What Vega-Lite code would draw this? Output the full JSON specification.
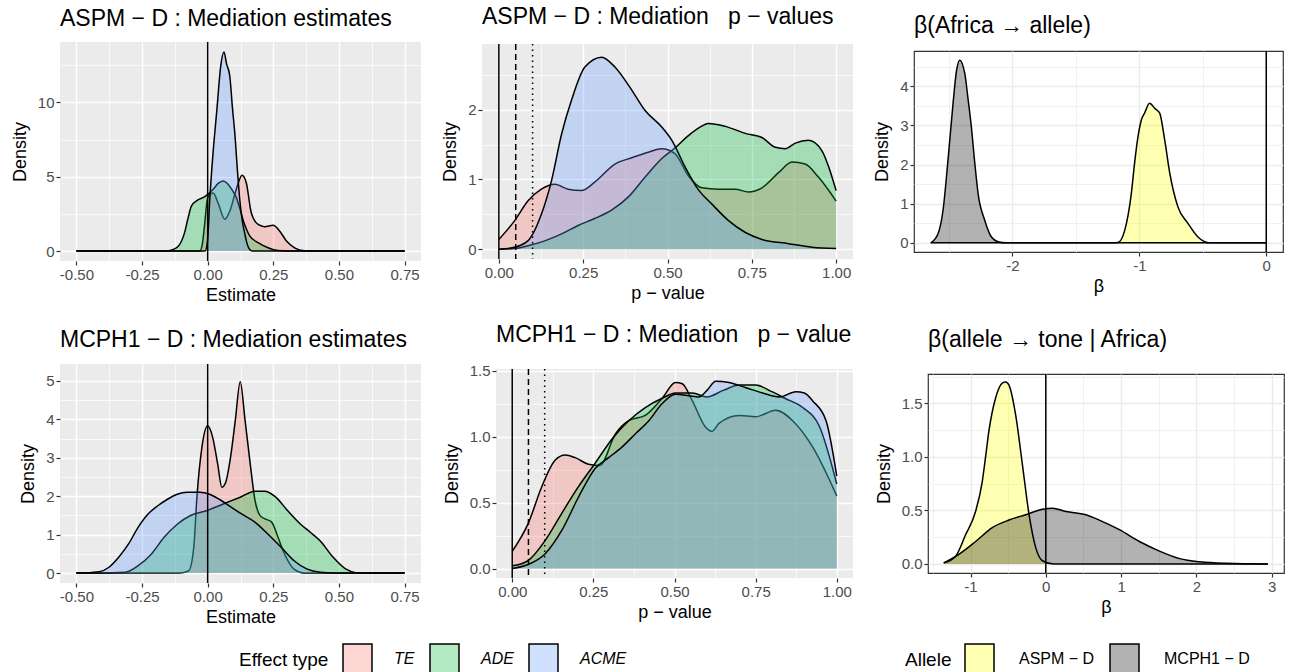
{
"$schema":"https://vega.github.io/schema/vega-lite/v6.json",
"background":"white",
"padding":{"left":11,"top":6,"right":5,"bottom":0},
"datasets":{
"p1":[
{"s":"TE","x":-0.5,"y":0},{"s":"TE","x":-0.03,"y":0},{"s":"TE","x":-0.02,"y":0.5},{"s":"TE","x":-0.011,"y":1.9},{"s":"TE","x":0,"y":3.6},{"s":"TE","x":0.021,"y":3.9},{"s":"TE","x":0.039,"y":3.26},{"s":"TE","x":0.065,"y":2.14},{"s":"TE","x":0.084,"y":2.67},{"s":"TE","x":0.109,"y":4.16},{"s":"TE","x":0.131,"y":5.1},{"s":"TE","x":0.147,"y":4.6},{"s":"TE","x":0.166,"y":2.58},{"s":"TE","x":0.192,"y":1.79},{"s":"TE","x":0.217,"y":1.64},{"s":"TE","x":0.249,"y":1.73},{"s":"TE","x":0.274,"y":1.35},{"s":"TE","x":0.3,"y":0.68},{"s":"TE","x":0.331,"y":0.22},{"s":"TE","x":0.369,"y":0.02},{"s":"TE","x":0.4,"y":0},{"s":"TE","x":0.75,"y":0},
{"s":"ADE","x":-0.5,"y":0},{"s":"ADE","x":-0.16,"y":0},{"s":"ADE","x":-0.139,"y":0.05},{"s":"ADE","x":-0.113,"y":0.3},{"s":"ADE","x":-0.088,"y":1.24},{"s":"ADE","x":-0.075,"y":2.2},{"s":"ADE","x":-0.062,"y":3.03},{"s":"ADE","x":-0.037,"y":3.44},{"s":"ADE","x":-0.011,"y":3.66},{"s":"ADE","x":0.021,"y":4.16},{"s":"ADE","x":0.04,"y":4.55},{"s":"ADE","x":0.058,"y":4.72},{"s":"ADE","x":0.075,"y":4.55},{"s":"ADE","x":0.09,"y":4.2},{"s":"ADE","x":0.109,"y":3.6},{"s":"ADE","x":0.122,"y":2.9},{"s":"ADE","x":0.134,"y":2.14},{"s":"ADE","x":0.147,"y":1.5},{"s":"ADE","x":0.16,"y":1.02},{"s":"ADE","x":0.192,"y":0.56},{"s":"ADE","x":0.23,"y":0.22},{"s":"ADE","x":0.268,"y":0.03},{"s":"ADE","x":0.3,"y":0},{"s":"ADE","x":0.75,"y":0},
{"s":"ACME","x":-0.5,"y":0},{"s":"ACME","x":-0.01,"y":0},{"s":"ACME","x":0,"y":0.8},{"s":"ACME","x":0.008,"y":3.5},{"s":"ACME","x":0.02,"y":6.5},{"s":"ACME","x":0.035,"y":9.5},{"s":"ACME","x":0.05,"y":12.5},{"s":"ACME","x":0.062,"y":13.4},{"s":"ACME","x":0.072,"y":12.6},{"s":"ACME","x":0.084,"y":11.8},{"s":"ACME","x":0.095,"y":9.5},{"s":"ACME","x":0.103,"y":8},{"s":"ACME","x":0.113,"y":5.5},{"s":"ACME","x":0.122,"y":3.5},{"s":"ACME","x":0.132,"y":2},{"s":"ACME","x":0.141,"y":1.2},{"s":"ACME","x":0.15,"y":0.5},{"s":"ACME","x":0.16,"y":0.1},{"s":"ACME","x":0.17,"y":0},{"s":"ACME","x":0.75,"y":0}
],
"p2":[
{"s":"TE","x":0,"y":0.14},{"s":"TE","x":0.047,"y":0.41},{"s":"TE","x":0.086,"y":0.69},{"s":"TE","x":0.126,"y":0.86},{"s":"TE","x":0.166,"y":0.93},{"s":"TE","x":0.205,"y":0.86},{"s":"TE","x":0.245,"y":0.84},{"s":"TE","x":0.284,"y":0.96},{"s":"TE","x":0.344,"y":1.22},{"s":"TE","x":0.394,"y":1.31},{"s":"TE","x":0.443,"y":1.39},{"s":"TE","x":0.483,"y":1.44},{"s":"TE","x":0.522,"y":1.37},{"s":"TE","x":0.562,"y":1.05},{"s":"TE","x":0.602,"y":0.88},{"s":"TE","x":0.651,"y":0.86},{"s":"TE","x":0.701,"y":0.86},{"s":"TE","x":0.74,"y":0.82},{"s":"TE","x":0.78,"y":0.88},{"s":"TE","x":0.83,"y":1.1},{"s":"TE","x":0.869,"y":1.25},{"s":"TE","x":0.908,"y":1.22},{"s":"TE","x":0.948,"y":1.03},{"s":"TE","x":1,"y":0.69},
{"s":"ADE","x":0,"y":0},{"s":"ADE","x":0.047,"y":0.01},{"s":"ADE","x":0.086,"y":0.05},{"s":"ADE","x":0.136,"y":0.12},{"s":"ADE","x":0.186,"y":0.22},{"s":"ADE","x":0.235,"y":0.34},{"s":"ADE","x":0.284,"y":0.44},{"s":"ADE","x":0.334,"y":0.56},{"s":"ADE","x":0.384,"y":0.75},{"s":"ADE","x":0.433,"y":1.03},{"s":"ADE","x":0.483,"y":1.3},{"s":"ADE","x":0.522,"y":1.45},{"s":"ADE","x":0.56,"y":1.62},{"s":"ADE","x":0.6,"y":1.76},{"s":"ADE","x":0.621,"y":1.8},{"s":"ADE","x":0.671,"y":1.76},{"s":"ADE","x":0.731,"y":1.66},{"s":"ADE","x":0.78,"y":1.6},{"s":"ADE","x":0.82,"y":1.46},{"s":"ADE","x":0.849,"y":1.44},{"s":"ADE","x":0.879,"y":1.52},{"s":"ADE","x":0.918,"y":1.56},{"s":"ADE","x":0.958,"y":1.41},{"s":"ADE","x":0.98,"y":1.15},{"s":"ADE","x":1,"y":0.84},
{"s":"ACME","x":0,"y":0},{"s":"ACME","x":0.04,"y":0.02},{"s":"ACME","x":0.086,"y":0.12},{"s":"ACME","x":0.126,"y":0.5},{"s":"ACME","x":0.156,"y":0.98},{"s":"ACME","x":0.186,"y":1.65},{"s":"ACME","x":0.215,"y":2.13},{"s":"ACME","x":0.255,"y":2.61},{"s":"ACME","x":0.305,"y":2.75},{"s":"ACME","x":0.344,"y":2.61},{"s":"ACME","x":0.394,"y":2.28},{"s":"ACME","x":0.433,"y":1.99},{"s":"ACME","x":0.483,"y":1.75},{"s":"ACME","x":0.513,"y":1.56},{"s":"ACME","x":0.552,"y":1.18},{"s":"ACME","x":0.592,"y":0.85},{"s":"ACME","x":0.631,"y":0.65},{"s":"ACME","x":0.681,"y":0.41},{"s":"ACME","x":0.731,"y":0.24},{"s":"ACME","x":0.78,"y":0.14},{"s":"ACME","x":0.859,"y":0.08},{"s":"ACME","x":0.928,"y":0.03},{"s":"ACME","x":1,"y":0.01}
],
"p3":[
{"s":"ASPM − D","x":-2.643,"y":0},{"s":"ASPM − D","x":-1.2,"y":0},{"s":"ASPM − D","x":-1.168,"y":0.01},{"s":"ASPM − D","x":-1.115,"y":0.32},{"s":"ASPM − D","x":-1.063,"y":1.26},{"s":"ASPM − D","x":-1.035,"y":2.1},{"s":"ASPM − D","x":-1.01,"y":2.72},{"s":"ASPM − D","x":-0.984,"y":3.14},{"s":"ASPM − D","x":-0.958,"y":3.32},{"s":"ASPM − D","x":-0.919,"y":3.57},{"s":"ASPM − D","x":-0.879,"y":3.44},{"s":"ASPM − D","x":-0.84,"y":3.32},{"s":"ASPM − D","x":-0.8,"y":2.63},{"s":"ASPM − D","x":-0.76,"y":1.78},{"s":"ASPM − D","x":-0.696,"y":0.92},{"s":"ASPM − D","x":-0.617,"y":0.5},{"s":"ASPM − D","x":-0.538,"y":0.15},{"s":"ASPM − D","x":-0.486,"y":0.03},{"s":"ASPM − D","x":-0.45,"y":0},{"s":"ASPM − D","x":0,"y":0},
{"s":"MCPH1 − D","x":-2.643,"y":0},{"s":"MCPH1 − D","x":-2.585,"y":0.24},{"s":"MCPH1 − D","x":-2.546,"y":0.84},{"s":"MCPH1 − D","x":-2.507,"y":2.12},{"s":"MCPH1 − D","x":-2.467,"y":3.58},{"s":"MCPH1 − D","x":-2.44,"y":4.4},{"s":"MCPH1 − D","x":-2.415,"y":4.67},{"s":"MCPH1 − D","x":-2.375,"y":4.33},{"s":"MCPH1 − D","x":-2.35,"y":3.7},{"s":"MCPH1 − D","x":-2.323,"y":2.96},{"s":"MCPH1 − D","x":-2.295,"y":2},{"s":"MCPH1 − D","x":-2.27,"y":1.26},{"s":"MCPH1 − D","x":-2.218,"y":0.58},{"s":"MCPH1 − D","x":-2.165,"y":0.15},{"s":"MCPH1 − D","x":-2.113,"y":0.03},{"s":"MCPH1 − D","x":-2.05,"y":0},{"s":"MCPH1 − D","x":0,"y":0}
],
"p4":[
{"s":"TE","x":-0.5,"y":0},{"s":"TE","x":-0.109,"y":0},{"s":"TE","x":-0.072,"y":0.06},{"s":"TE","x":-0.053,"y":0.67},{"s":"TE","x":-0.041,"y":1.97},{"s":"TE","x":-0.022,"y":3.27},{"s":"TE","x":0,"y":3.83},{"s":"TE","x":0.019,"y":3.53},{"s":"TE","x":0.038,"y":2.84},{"s":"TE","x":0.054,"y":2.23},{"s":"TE","x":0.068,"y":2.35},{"s":"TE","x":0.087,"y":3.01},{"s":"TE","x":0.105,"y":3.96},{"s":"TE","x":0.124,"y":4.98},{"s":"TE","x":0.142,"y":4},{"s":"TE","x":0.161,"y":2.9},{"s":"TE","x":0.18,"y":1.9},{"s":"TE","x":0.199,"y":1.5},{"s":"TE","x":0.218,"y":1.41},{"s":"TE","x":0.243,"y":1.33},{"s":"TE","x":0.268,"y":0.93},{"s":"TE","x":0.286,"y":0.6},{"s":"TE","x":0.305,"y":0.33},{"s":"TE","x":0.329,"y":0.1},{"s":"TE","x":0.366,"y":0},{"s":"TE","x":0.75,"y":0},
{"s":"ADE","x":-0.5,"y":0},{"s":"ADE","x":-0.413,"y":0},{"s":"ADE","x":-0.314,"y":0.02},{"s":"ADE","x":-0.265,"y":0.19},{"s":"ADE","x":-0.215,"y":0.49},{"s":"ADE","x":-0.166,"y":0.93},{"s":"ADE","x":-0.116,"y":1.27},{"s":"ADE","x":-0.067,"y":1.49},{"s":"ADE","x":-0.005,"y":1.62},{"s":"ADE","x":0.057,"y":1.79},{"s":"ADE","x":0.119,"y":1.96},{"s":"ADE","x":0.181,"y":2.13},{"s":"ADE","x":0.218,"y":2.13},{"s":"ADE","x":0.255,"y":2},{"s":"ADE","x":0.305,"y":1.62},{"s":"ADE","x":0.354,"y":1.27},{"s":"ADE","x":0.391,"y":1.06},{"s":"ADE","x":0.428,"y":0.84},{"s":"ADE","x":0.478,"y":0.41},{"s":"ADE","x":0.527,"y":0.1},{"s":"ADE","x":0.564,"y":0.01},{"s":"ADE","x":0.6,"y":0},{"s":"ADE","x":0.75,"y":0},
{"s":"ACME","x":-0.5,"y":0},{"s":"ACME","x":-0.45,"y":0.01},{"s":"ACME","x":-0.413,"y":0.03},{"s":"ACME","x":-0.376,"y":0.15},{"s":"ACME","x":-0.339,"y":0.41},{"s":"ACME","x":-0.302,"y":0.75},{"s":"ACME","x":-0.265,"y":1.19},{"s":"ACME","x":-0.228,"y":1.53},{"s":"ACME","x":-0.19,"y":1.75},{"s":"ACME","x":-0.153,"y":1.92},{"s":"ACME","x":-0.116,"y":2.05},{"s":"ACME","x":-0.079,"y":2.1},{"s":"ACME","x":-0.03,"y":2.1},{"s":"ACME","x":0.007,"y":2.05},{"s":"ACME","x":0.044,"y":1.92},{"s":"ACME","x":0.082,"y":1.75},{"s":"ACME","x":0.131,"y":1.53},{"s":"ACME","x":0.181,"y":1.32},{"s":"ACME","x":0.23,"y":1.01},{"s":"ACME","x":0.28,"y":0.67},{"s":"ACME","x":0.329,"y":0.32},{"s":"ACME","x":0.379,"y":0.1},{"s":"ACME","x":0.428,"y":0.02},{"s":"ACME","x":0.48,"y":0},{"s":"ACME","x":0.75,"y":0}
],
"p5":[
{"s":"TE","x":0,"y":0.13},{"s":"TE","x":0.049,"y":0.34},{"s":"TE","x":0.091,"y":0.62},{"s":"TE","x":0.132,"y":0.82},{"s":"TE","x":0.163,"y":0.86},{"s":"TE","x":0.194,"y":0.84},{"s":"TE","x":0.235,"y":0.79},{"s":"TE","x":0.27,"y":0.78},{"s":"TE","x":0.318,"y":1.02},{"s":"TE","x":0.359,"y":1.12},{"s":"TE","x":0.41,"y":1.16},{"s":"TE","x":0.462,"y":1.29},{"s":"TE","x":0.503,"y":1.41},{"s":"TE","x":0.524,"y":1.4},{"s":"TE","x":0.555,"y":1.27},{"s":"TE","x":0.596,"y":1.07},{"s":"TE","x":0.615,"y":1.04},{"s":"TE","x":0.637,"y":1.1},{"s":"TE","x":0.699,"y":1.16},{"s":"TE","x":0.75,"y":1.15},{"s":"TE","x":0.812,"y":1.2},{"s":"TE","x":0.864,"y":1.12},{"s":"TE","x":0.926,"y":0.92},{"s":"TE","x":1,"y":0.55},
{"s":"ADE","x":0,"y":0.02},{"s":"ADE","x":0.049,"y":0.06},{"s":"ADE","x":0.101,"y":0.21},{"s":"ADE","x":0.153,"y":0.42},{"s":"ADE","x":0.204,"y":0.62},{"s":"ADE","x":0.256,"y":0.8},{"s":"ADE","x":0.307,"y":0.98},{"s":"ADE","x":0.359,"y":1.12},{"s":"ADE","x":0.41,"y":1.22},{"s":"ADE","x":0.462,"y":1.29},{"s":"ADE","x":0.503,"y":1.33},{"s":"ADE","x":0.555,"y":1.33},{"s":"ADE","x":0.6,"y":1.3},{"s":"ADE","x":0.65,"y":1.35},{"s":"ADE","x":0.7,"y":1.39},{"s":"ADE","x":0.75,"y":1.39},{"s":"ADE","x":0.8,"y":1.34},{"s":"ADE","x":0.84,"y":1.29},{"s":"ADE","x":0.895,"y":1.22},{"s":"ADE","x":0.946,"y":1.08},{"s":"ADE","x":1,"y":0.64},
{"s":"ACME","x":0,"y":0},{"s":"ACME","x":0.049,"y":0.03},{"s":"ACME","x":0.101,"y":0.11},{"s":"ACME","x":0.153,"y":0.29},{"s":"ACME","x":0.204,"y":0.54},{"s":"ACME","x":0.256,"y":0.76},{"s":"ACME","x":0.297,"y":0.84},{"s":"ACME","x":0.338,"y":0.92},{"s":"ACME","x":0.379,"y":1.02},{"s":"ACME","x":0.421,"y":1.12},{"s":"ACME","x":0.462,"y":1.25},{"s":"ACME","x":0.503,"y":1.32},{"s":"ACME","x":0.544,"y":1.31},{"s":"ACME","x":0.575,"y":1.3},{"s":"ACME","x":0.6,"y":1.35},{"s":"ACME","x":0.627,"y":1.42},{"s":"ACME","x":0.668,"y":1.41},{"s":"ACME","x":0.72,"y":1.37},{"s":"ACME","x":0.771,"y":1.33},{"s":"ACME","x":0.823,"y":1.3},{"s":"ACME","x":0.874,"y":1.34},{"s":"ACME","x":0.9,"y":1.33},{"s":"ACME","x":0.926,"y":1.27},{"s":"ACME","x":0.967,"y":1.12},{"s":"ACME","x":1,"y":0.7}
],
"p6":[
{"s":"ASPM − D","x":-1.356,"y":0.01},{"s":"ASPM − D","x":-1.2,"y":0.07},{"s":"ASPM − D","x":-1.067,"y":0.27},{"s":"ASPM − D","x":-0.933,"y":0.49},{"s":"ASPM − D","x":-0.844,"y":0.77},{"s":"ASPM − D","x":-0.8,"y":1},{"s":"ASPM − D","x":-0.756,"y":1.24},{"s":"ASPM − D","x":-0.667,"y":1.55},{"s":"ASPM − D","x":-0.578,"y":1.69},{"s":"ASPM − D","x":-0.533,"y":1.7},{"s":"ASPM − D","x":-0.489,"y":1.67},{"s":"ASPM − D","x":-0.4,"y":1.39},{"s":"ASPM − D","x":-0.311,"y":0.93},{"s":"ASPM − D","x":-0.222,"y":0.46},{"s":"ASPM − D","x":-0.133,"y":0.15},{"s":"ASPM − D","x":-0.044,"y":0.03},{"s":"ASPM − D","x":0.1,"y":0},{"s":"ASPM − D","x":2.95,"y":0},
{"s":"MCPH1 − D","x":-1.356,"y":0.01},{"s":"MCPH1 − D","x":-1.156,"y":0.09},{"s":"MCPH1 − D","x":-0.933,"y":0.21},{"s":"MCPH1 − D","x":-0.711,"y":0.34},{"s":"MCPH1 − D","x":-0.489,"y":0.41},{"s":"MCPH1 − D","x":-0.267,"y":0.46},{"s":"MCPH1 − D","x":-0.044,"y":0.51},{"s":"MCPH1 − D","x":0.089,"y":0.52},{"s":"MCPH1 − D","x":0.267,"y":0.49},{"s":"MCPH1 − D","x":0.533,"y":0.46},{"s":"MCPH1 − D","x":0.711,"y":0.41},{"s":"MCPH1 − D","x":0.978,"y":0.32},{"s":"MCPH1 − D","x":1.244,"y":0.21},{"s":"MCPH1 − D","x":1.511,"y":0.12},{"s":"MCPH1 − D","x":1.778,"y":0.05},{"s":"MCPH1 − D","x":2.044,"y":0.02},{"s":"MCPH1 − D","x":2.4,"y":0.006},{"s":"MCPH1 − D","x":2.95,"y":0}
]
},
"vconcat":[
{"hconcat":[
{"width":361,"height":219,
 "title":{"text":"ASPM − D : Mediation estimates","offset":10},
 "data":{"name":"p1"},
 "encoding":{"x":{"field":"x","type":"quantitative","title":"Estimate","scale":{"domain":[-0.5625,0.8125],"nice":false,"zero":false},
   "axis":{"values":[-0.5,-0.375,-0.25,-0.125,0,0.125,0.25,0.375,0.5,0.625,0.75],
   "labelExpr":"indexof([-0.5,-0.25,0,0.25,0.5,0.75], datum.value) >= 0 ? replace(format(datum.value,'.2f'),'\u2212','-') : ''",
   "gridWidth":{"condition":{"test":"indexof([-0.5,-0.25,0,0.25,0.5,0.75], datum.value) >= 0","value":1.4},"value":0.7},
   "tickOpacity":{"condition":{"test":"indexof([-0.5,-0.25,0,0.25,0.5,0.75], datum.value) >= 0","value":1},"value":0}}}},
 "layer":[
  {"encoding":{
    "y":{"field":"y","type":"quantitative","stack":null,"title":"Density","scale":{"domain":[-0.67,14.07],"nice":false,"zero":false},
     "axis":{"values":[0,2.5,5,7.5,10,12.5],
     "labelExpr":"indexof([0,5,10], datum.value) >= 0 ? format(datum.value,'d') : ''",
     "gridWidth":{"condition":{"test":"indexof([0,5,10], datum.value) >= 0","value":1.4},"value":0.7},
     "tickOpacity":{"condition":{"test":"indexof([0,5,10], datum.value) >= 0","value":1},"value":0}}},
    "fill":{"field":"s","type":"nominal","scale":{"domain":["TE","ADE","ACME"],"range":["#F8766D","#00BA38","#619CFF"]},"legend":null}},
   "layer":[
    {"transform":[{"filter":"datum.s === 'TE'"}],"mark":{"type":"area","interpolate":"monotone","fillOpacity":0.3}},
    {"transform":[{"filter":"datum.s === 'TE'"}],"mark":{"type":"line","interpolate":"monotone","stroke":"black","strokeWidth":1.5},"encoding":{"fill":{"value":"transparent"}}},
    {"transform":[{"filter":"datum.s === 'ADE'"}],"mark":{"type":"area","interpolate":"monotone","fillOpacity":0.3}},
    {"transform":[{"filter":"datum.s === 'ADE'"}],"mark":{"type":"line","interpolate":"monotone","stroke":"black","strokeWidth":1.5},"encoding":{"fill":{"value":"transparent"}}},
    {"transform":[{"filter":"datum.s === 'ACME'"}],"mark":{"type":"area","interpolate":"monotone","fillOpacity":0.3}},
    {"transform":[{"filter":"datum.s === 'ACME'"}],"mark":{"type":"line","interpolate":"monotone","stroke":"black","strokeWidth":1.5},"encoding":{"fill":{"value":"transparent"}}}
   ]},
  {"data":{"values":[{"x":0}]},"mark":{"type":"rule","color":"black","strokeWidth":1.5},"encoding":{}}
 ]},
{"width":371,"height":215,
 "title":{"text":"ASPM − D : Mediation \u00a0\u00a0p − values","offset":14},
 "data":{"name":"p2"},
 "encoding":{"x":{"field":"x","type":"quantitative","title":"p − value","scale":{"domain":[-0.05,1.05],"nice":false,"zero":false},
   "axis":{"values":[0,0.125,0.25,0.375,0.5,0.625,0.75,0.875,1],
   "labelExpr":"indexof([0,0.25,0.5,0.75,1], datum.value) >= 0 ? format(datum.value,'.2f') : ''",
   "gridWidth":{"condition":{"test":"indexof([0,0.25,0.5,0.75,1], datum.value) >= 0","value":1.4},"value":0.7},
   "tickOpacity":{"condition":{"test":"indexof([0,0.25,0.5,0.75,1], datum.value) >= 0","value":1},"value":0}}}},
 "layer":[
  {"encoding":{
    "y":{"field":"y","type":"quantitative","stack":null,"title":"Density","scale":{"domain":[-0.14,2.94],"nice":false,"zero":false},
     "axis":{"values":[0,0.5,1,1.5,2,2.5],
     "labelExpr":"indexof([0,1,2], datum.value) >= 0 ? format(datum.value,'d') : ''",
     "gridWidth":{"condition":{"test":"indexof([0,1,2], datum.value) >= 0","value":1.4},"value":0.7},
     "tickOpacity":{"condition":{"test":"indexof([0,1,2], datum.value) >= 0","value":1},"value":0}}},
    "fill":{"field":"s","type":"nominal","scale":{"domain":["TE","ADE","ACME"],"range":["#F8766D","#00BA38","#619CFF"]},"legend":null}},
   "layer":[
    {"transform":[{"filter":"datum.s === 'TE'"}],"mark":{"type":"area","interpolate":"monotone","fillOpacity":0.3}},
    {"transform":[{"filter":"datum.s === 'TE'"}],"mark":{"type":"line","interpolate":"monotone","stroke":"black","strokeWidth":1.5},"encoding":{"fill":{"value":"transparent"}}},
    {"transform":[{"filter":"datum.s === 'ADE'"}],"mark":{"type":"area","interpolate":"monotone","fillOpacity":0.3}},
    {"transform":[{"filter":"datum.s === 'ADE'"}],"mark":{"type":"line","interpolate":"monotone","stroke":"black","strokeWidth":1.5},"encoding":{"fill":{"value":"transparent"}}},
    {"transform":[{"filter":"datum.s === 'ACME'"}],"mark":{"type":"area","interpolate":"monotone","fillOpacity":0.3}},
    {"transform":[{"filter":"datum.s === 'ACME'"}],"mark":{"type":"line","interpolate":"monotone","stroke":"black","strokeWidth":1.5},"encoding":{"fill":{"value":"transparent"}}}
   ]},
  {"data":{"values":[{"x":0}]},"mark":{"type":"rule","color":"black","strokeWidth":1.5},"encoding":{}},
  {"data":{"values":[{"x":0.05}]},"mark":{"type":"rule","color":"black","strokeWidth":1.5,"strokeDash":[6,4]},"encoding":{}},
  {"data":{"values":[{"x":0.1}]},"mark":{"type":"rule","color":"black","strokeWidth":1.5,"strokeDash":[1.5,4]},"encoding":{}}
 ]},
{"width":369,"height":201,
 "view":{"fill":"white","stroke":"#333333","strokeWidth":1.2},
 "title":{"text":"β(Africa → allele)","offset":12},
 "data":{"name":"p3"},
 "encoding":{"x":{"field":"x","type":"quantitative","title":"β","scale":{"domain":[-2.775,0.132],"nice":false,"zero":false},
   "axis":{"values":[-2.5,-2,-1.5,-1,-0.5,0],"gridColor":"#EBEBEB",
   "labelExpr":"indexof([-2,-1,0], datum.value) >= 0 ? replace(format(datum.value,'d'),'\u2212','-') : ''",
   "gridWidth":{"condition":{"test":"indexof([-2,-1,0], datum.value) >= 0","value":1.4},"value":0.7},
   "tickOpacity":{"condition":{"test":"indexof([-2,-1,0], datum.value) >= 0","value":1},"value":0}}}},
 "layer":[
  {"encoding":{
    "y":{"field":"y","type":"quantitative","stack":null,"title":"Density","scale":{"domain":[-0.2335,4.9035],"nice":false,"zero":false},
     "axis":{"values":[0,0.5,1,1.5,2,2.5,3,3.5,4,4.5],"gridColor":"#EBEBEB",
     "labelExpr":"indexof([0,1,2,3,4], datum.value) >= 0 ? format(datum.value,'d') : ''",
     "gridWidth":{"condition":{"test":"indexof([0,1,2,3,4], datum.value) >= 0","value":1.4},"value":0.7},
     "tickOpacity":{"condition":{"test":"indexof([0,1,2,3,4], datum.value) >= 0","value":1},"value":0}}},
    "fill":{"field":"s","type":"nominal","scale":{"domain":["ASPM − D","MCPH1 − D"],"range":["#FFFF00","#000000"]},"legend":null}},
   "layer":[
    {"transform":[{"filter":"datum.s === 'ASPM − D'"}],"mark":{"type":"area","interpolate":"monotone","fillOpacity":0.3}},
    {"transform":[{"filter":"datum.s === 'ASPM − D'"}],"mark":{"type":"line","interpolate":"monotone","stroke":"black","strokeWidth":1.5},"encoding":{"fill":{"value":"transparent"}}},
    {"transform":[{"filter":"datum.s === 'MCPH1 − D'"}],"mark":{"type":"area","interpolate":"monotone","fillOpacity":0.3}},
    {"transform":[{"filter":"datum.s === 'MCPH1 − D'"}],"mark":{"type":"line","interpolate":"monotone","stroke":"black","strokeWidth":1.5},"encoding":{"fill":{"value":"transparent"}}}
   ]},
  {"data":{"values":[{"x":0}]},"mark":{"type":"rule","color":"black","strokeWidth":1.5},"encoding":{}}
 ]}
],"spacing":61,"bounds":"flush","center":true,"resolve":{"scale":{"fill":"independent"}}},
{"hconcat":[
{"width":361,"height":219,
 "title":{"text":"MCPH1 − D : Mediation estimates","offset":11},
 "data":{"name":"p4"},
 "encoding":{"x":{"field":"x","type":"quantitative","title":"Estimate","scale":{"domain":[-0.5625,0.8125],"nice":false,"zero":false},
   "axis":{"values":[-0.5,-0.375,-0.25,-0.125,0,0.125,0.25,0.375,0.5,0.625,0.75],
   "labelExpr":"indexof([-0.5,-0.25,0,0.25,0.5,0.75], datum.value) >= 0 ? replace(format(datum.value,'.2f'),'\u2212','-') : ''",
   "gridWidth":{"condition":{"test":"indexof([-0.5,-0.25,0,0.25,0.5,0.75], datum.value) >= 0","value":1.4},"value":0.7},
   "tickOpacity":{"condition":{"test":"indexof([-0.5,-0.25,0,0.25,0.5,0.75], datum.value) >= 0","value":1},"value":0}}}},
 "layer":[
  {"encoding":{
    "y":{"field":"y","type":"quantitative","stack":null,"title":"Density","scale":{"domain":[-0.26,5.44],"nice":false,"zero":false},
     "axis":{"values":[0,0.5,1,1.5,2,2.5,3,3.5,4,4.5,5],
     "labelExpr":"indexof([0,1,2,3,4,5], datum.value) >= 0 ? format(datum.value,'d') : ''",
     "gridWidth":{"condition":{"test":"indexof([0,1,2,3,4,5], datum.value) >= 0","value":1.4},"value":0.7},
     "tickOpacity":{"condition":{"test":"indexof([0,1,2,3,4,5], datum.value) >= 0","value":1},"value":0}}},
    "fill":{"field":"s","type":"nominal","scale":{"domain":["TE","ADE","ACME"],"range":["#F8766D","#00BA38","#619CFF"]},
     "legend":{"title":"Effect type","orient":"none","legendX":179,"legendY":279,"direction":"horizontal","titleOrient":"left","titlePadding":13,"symbolType":"square","symbolSize":841,"symbolStrokeColor":"black","symbolStrokeWidth":1.5,"labelFontStyle":"italic","labelOffset":21,"columnPadding":12,"padding":0,
      "encode":{"symbols":{"update":{"fillOpacity":{"value":0.3},"stroke":{"value":"black"},"strokeWidth":{"value":1.5}}}}}}},
   "layer":[
    {"transform":[{"filter":"datum.s === 'TE'"}],"mark":{"type":"area","interpolate":"monotone","fillOpacity":0.3}},
    {"transform":[{"filter":"datum.s === 'TE'"}],"mark":{"type":"line","interpolate":"monotone","stroke":"black","strokeWidth":1.5},"encoding":{"fill":{"value":"transparent"}}},
    {"transform":[{"filter":"datum.s === 'ADE'"}],"mark":{"type":"area","interpolate":"monotone","fillOpacity":0.3}},
    {"transform":[{"filter":"datum.s === 'ADE'"}],"mark":{"type":"line","interpolate":"monotone","stroke":"black","strokeWidth":1.5},"encoding":{"fill":{"value":"transparent"}}},
    {"transform":[{"filter":"datum.s === 'ACME'"}],"mark":{"type":"area","interpolate":"monotone","fillOpacity":0.3}},
    {"transform":[{"filter":"datum.s === 'ACME'"}],"mark":{"type":"line","interpolate":"monotone","stroke":"black","strokeWidth":1.5},"encoding":{"fill":{"value":"transparent"}}}
   ]},
  {"data":{"values":[{"x":0}]},"mark":{"type":"rule","color":"black","strokeWidth":1.5},"encoding":{}}
 ]},
{"width":357,"height":209,
 "title":{"text":"MCPH1 − D : Mediation \u00a0\u00a0p − value","offset":17},
 "data":{"name":"p5"},
 "encoding":{"x":{"field":"x","type":"quantitative","title":"p − value","scale":{"domain":[-0.05,1.05],"nice":false,"zero":false},
   "axis":{"values":[0,0.125,0.25,0.375,0.5,0.625,0.75,0.875,1],
   "labelExpr":"indexof([0,0.25,0.5,0.75,1], datum.value) >= 0 ? format(datum.value,'.2f') : ''",
   "gridWidth":{"condition":{"test":"indexof([0,0.25,0.5,0.75,1], datum.value) >= 0","value":1.4},"value":0.7},
   "tickOpacity":{"condition":{"test":"indexof([0,0.25,0.5,0.75,1], datum.value) >= 0","value":1},"value":0}}}},
 "layer":[
  {"encoding":{
    "y":{"field":"y","type":"quantitative","stack":null,"title":"Density","scale":{"domain":[-0.072,1.512],"nice":false,"zero":false},
     "axis":{"values":[0,0.25,0.5,0.75,1,1.25,1.5],
     "labelExpr":"indexof([0,0.5,1,1.5], datum.value) >= 0 ? format(datum.value,'.1f') : ''",
     "gridWidth":{"condition":{"test":"indexof([0,0.5,1,1.5], datum.value) >= 0","value":1.4},"value":0.7},
     "tickOpacity":{"condition":{"test":"indexof([0,0.5,1,1.5], datum.value) >= 0","value":1},"value":0}}},
    "fill":{"field":"s","type":"nominal","scale":{"domain":["TE","ADE","ACME"],"range":["#F8766D","#00BA38","#619CFF"]},"legend":null}},
   "layer":[
    {"transform":[{"filter":"datum.s === 'TE'"}],"mark":{"type":"area","interpolate":"monotone","fillOpacity":0.3}},
    {"transform":[{"filter":"datum.s === 'TE'"}],"mark":{"type":"line","interpolate":"monotone","stroke":"black","strokeWidth":1.5},"encoding":{"fill":{"value":"transparent"}}},
    {"transform":[{"filter":"datum.s === 'ADE'"}],"mark":{"type":"area","interpolate":"monotone","fillOpacity":0.3}},
    {"transform":[{"filter":"datum.s === 'ADE'"}],"mark":{"type":"line","interpolate":"monotone","stroke":"black","strokeWidth":1.5},"encoding":{"fill":{"value":"transparent"}}},
    {"transform":[{"filter":"datum.s === 'ACME'"}],"mark":{"type":"area","interpolate":"monotone","fillOpacity":0.3}},
    {"transform":[{"filter":"datum.s === 'ACME'"}],"mark":{"type":"line","interpolate":"monotone","stroke":"black","strokeWidth":1.5},"encoding":{"fill":{"value":"transparent"}}}
   ]},
  {"data":{"values":[{"x":0}]},"mark":{"type":"rule","color":"black","strokeWidth":1.5},"encoding":{}},
  {"data":{"values":[{"x":0.05}]},"mark":{"type":"rule","color":"black","strokeWidth":1.5,"strokeDash":[6,4]},"encoding":{}},
  {"data":{"values":[{"x":0.1}]},"mark":{"type":"rule","color":"black","strokeWidth":1.5,"strokeDash":[1.5,4]},"encoding":{}}
 ]},
{"width":356,"height":199,
 "view":{"fill":"white","stroke":"#333333","strokeWidth":1.2},
 "title":{"text":"β(allele → tone | Africa)","offset":18},
 "data":{"name":"p6"},
 "encoding":{"x":{"field":"x","type":"quantitative","title":"β","scale":{"domain":[-1.565,3.165],"nice":false,"zero":false},
   "axis":{"values":[-1.5,-1,-0.5,0,0.5,1,1.5,2,2.5,3],"gridColor":"#EBEBEB",
   "labelExpr":"indexof([-1,0,1,2,3], datum.value) >= 0 ? replace(format(datum.value,'d'),'\u2212','-') : ''",
   "gridWidth":{"condition":{"test":"indexof([-1,0,1,2,3], datum.value) >= 0","value":1.4},"value":0.7},
   "tickOpacity":{"condition":{"test":"indexof([-1,0,1,2,3], datum.value) >= 0","value":1},"value":0}}}},
 "layer":[
  {"encoding":{
    "y":{"field":"y","type":"quantitative","stack":null,"title":"Density","scale":{"domain":[-0.0845,1.7745],"nice":false,"zero":false},
     "axis":{"values":[0,0.25,0.5,0.75,1,1.25,1.5,1.75],"gridColor":"#EBEBEB",
     "labelExpr":"indexof([0,0.5,1,1.5], datum.value) >= 0 ? format(datum.value,'.1f') : ''",
     "gridWidth":{"condition":{"test":"indexof([0,0.5,1,1.5], datum.value) >= 0","value":1.4},"value":0.7},
     "tickOpacity":{"condition":{"test":"indexof([0,0.5,1,1.5], datum.value) >= 0","value":1},"value":0}}},
    "fill":{"field":"s","type":"nominal","scale":{"domain":["ASPM − D","MCPH1 − D"],"range":["#FFFF00","#000000"]},
     "legend":{"title":"Allele","orient":"none","legendX":-23,"legendY":269,"direction":"horizontal","titleOrient":"left","titlePadding":12,"symbolType":"square","symbolSize":841,"symbolStrokeColor":"black","symbolStrokeWidth":1.5,"labelOffset":24,"columnPadding":12,"padding":0,
      "encode":{"symbols":{"update":{"fillOpacity":{"value":0.3},"stroke":{"value":"black"},"strokeWidth":{"value":1.5}}}}}}},
   "layer":[
    {"transform":[{"filter":"datum.s === 'ASPM − D'"}],"mark":{"type":"area","interpolate":"monotone","fillOpacity":0.3}},
    {"transform":[{"filter":"datum.s === 'ASPM − D'"}],"mark":{"type":"line","interpolate":"monotone","stroke":"black","strokeWidth":1.5},"encoding":{"fill":{"value":"transparent"}}},
    {"transform":[{"filter":"datum.s === 'MCPH1 − D'"}],"mark":{"type":"area","interpolate":"monotone","fillOpacity":0.3}},
    {"transform":[{"filter":"datum.s === 'MCPH1 − D'"}],"mark":{"type":"line","interpolate":"monotone","stroke":"black","strokeWidth":1.5},"encoding":{"fill":{"value":"transparent"}}}
   ]},
  {"data":{"values":[{"x":0}]},"mark":{"type":"rule","color":"black","strokeWidth":1.5},"encoding":{}}
 ]}
],"spacing":75,"bounds":"flush","center":true,"resolve":{"scale":{"fill":"independent"}}}
],
"spacing":19,
"resolve":{"scale":{"fill":"independent"}},
"config":{
 "font":"Liberation Sans",
 "view":{"fill":"#EBEBEB","stroke":null},
 "axis":{"domain":false,"labelFontSize":15,"labelColor":"#4D4D4D","labelPadding":2,"tickColor":"#333333","tickSize":4,"tickWidth":1.2,"titleFontSize":18,"titleFontWeight":"normal","titleColor":"black","gridColor":"white","labelFlush":false,"labelOverlap":false,"labelBound":false},
 "axisX":{"titlePadding":4},
 "axisY":{"titlePadding":8},
 "title":{"fontSize":23,"fontWeight":"normal","anchor":"start","frame":"group","baseline":"alphabetic","color":"black"},
 "legend":{"titleFontSize":19,"titleFontWeight":"normal","titleColor":"black","labelFontSize":16,"labelColor":"black","labelLimit":0}
}
}
